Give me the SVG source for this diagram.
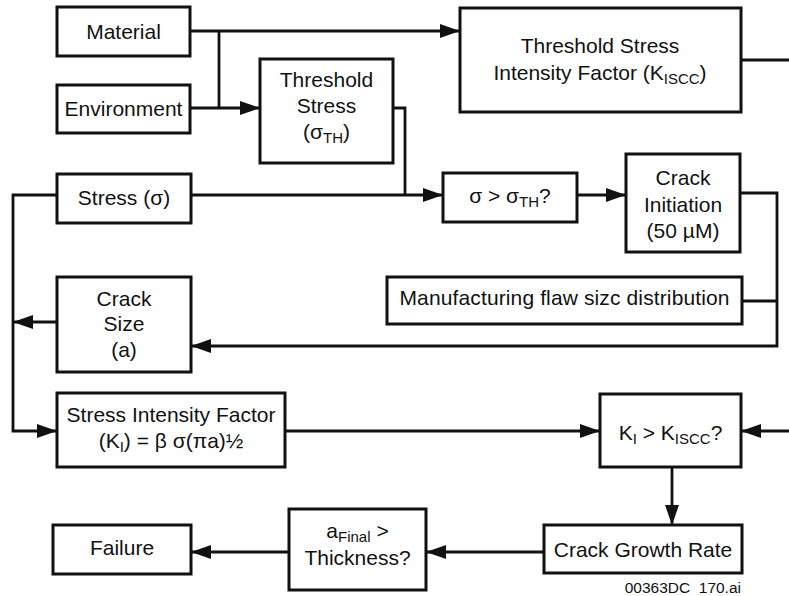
<svg xmlns="http://www.w3.org/2000/svg" width="789" height="596" viewBox="0 0 789 596">
<defs>
<style>
.box{fill:#fff;stroke:#111;stroke-width:3}
.ln{fill:none;stroke:#111;stroke-width:2.8}
.ar{marker-end:url(#ah)}
text{font-family:"Liberation Sans",Arial,sans-serif;font-size:21px;fill:#111;text-anchor:middle}
.sub{font-size:15px}
</style>
<marker id="ah" markerUnits="userSpaceOnUse" markerWidth="20" markerHeight="14" refX="20" refY="7" orient="auto">
<path d="M0,0 L20,7 L0,14 z" fill="#111"/>
</marker>
</defs>
<rect width="789" height="596" fill="#fff"/>
<g id="connectors">
<path class="ln ar" d="M190,31 H460"/>
<path class="ln" d="M219,31 V108"/>
<path class="ln ar" d="M190,108 H260"/>
<path class="ln" d="M741,60 H792"/>
<path class="ln" d="M393,108 H405 V195"/>
<path class="ln ar" d="M191,195 H443"/>
<path class="ln ar" d="M577,195 H626"/>
<path class="ln ar" d="M740,193 H777 V346 H191"/>
<path class="ln" d="M742,301 H777"/>
<path class="ln ar" d="M57,322 H13"/>
<path class="ln ar" d="M57,195 H13 V431 H57"/>
<path class="ln ar" d="M285,431 H600"/>
<path class="ln ar" d="M792,431 H741"/>
<path class="ln ar" d="M672,467 V525"/>
<path class="ln ar" d="M544,552 H426"/>
<path class="ln ar" d="M289,552 H191"/>
</g>
<g id="material"><rect class="box" x="57" y="7" width="133" height="49"/><text x="123.5" y="39">Material</text></g>
<g id="environment"><rect class="box" x="57" y="85" width="133" height="48"/><text x="123.5" y="116">Environment</text></g>
<g id="threshold-stress"><rect class="box" x="260" y="59" width="133" height="104"/>
<text x="326.5" y="87">Threshold</text><text x="326.5" y="113">Stress</text>
<text x="326.5" y="139">(σ<tspan class="sub" dy="4">TH</tspan><tspan dy="-4">)</tspan></text></g>
<g id="tsif"><rect class="box" x="460" y="8" width="281" height="104"/>
<text x="600" y="53">Threshold Stress</text>
<text x="600" y="80">Intensity Factor (K<tspan class="sub" dy="4">ISCC</tspan><tspan dy="-4">)</tspan></text></g>
<g id="stress"><rect class="box" x="57" y="174" width="134" height="49"/><text x="124" y="205">Stress (σ)</text></g>
<g id="sigma-check"><rect class="box" x="443" y="173" width="134" height="49"/>
<text x="510" y="203">σ &gt; σ<tspan class="sub" dy="4">TH</tspan><tspan dy="-4">?</tspan></text></g>
<g id="crack-initiation"><rect class="box" x="626" y="154" width="114" height="98"/>
<text x="683" y="185">Crack</text><text x="683" y="212">Initiation</text><text x="683" y="238">(50 µM)</text></g>
<g id="manufacturing"><rect class="box" x="387" y="277" width="355" height="47"/>
<text x="564.5" y="305" font-size="19" textLength="330" lengthAdjust="spacing">Manufacturing flaw sizc distribution</text></g>
<g id="crack-size"><rect class="box" x="57" y="277" width="134" height="95"/>
<text x="124" y="306">Crack</text><text x="124" y="331">Size</text><text x="124" y="357">(a)</text></g>
<g id="sif"><rect class="box" x="57" y="393" width="228" height="74"/>
<text x="171" y="422">Stress Intensity Factor</text>
<text x="171" y="448">(K<tspan class="sub" dy="4">I</tspan><tspan dy="-4">) = β σ(πa)½</tspan></text></g>
<g id="ki-check"><rect class="box" x="600" y="394" width="141" height="73"/>
<text x="670.5" y="440">K<tspan class="sub" dy="4">I</tspan><tspan dy="-4"> &gt; K</tspan><tspan class="sub" dy="4">ISCC</tspan><tspan dy="-4">?</tspan></text></g>
<g id="crack-growth"><rect class="box" x="544" y="525" width="198" height="48"/><text x="643" y="557">Crack Growth Rate</text></g>
<g id="afinal"><rect class="box" x="289" y="509" width="137" height="81"/>
<text x="357.5" y="538">a<tspan class="sub" dy="4">Final</tspan><tspan dy="-4"> &gt;</tspan></text>
<text x="357.5" y="565">Thickness?</text></g>
<g id="failure"><rect class="box" x="53" y="525" width="138" height="49"/><text x="122" y="555">Failure</text></g>
<text x="741" y="593" style="font-size:15.5px;text-anchor:end" xml:space="preserve">00363DC  170.ai</text>
</svg>
